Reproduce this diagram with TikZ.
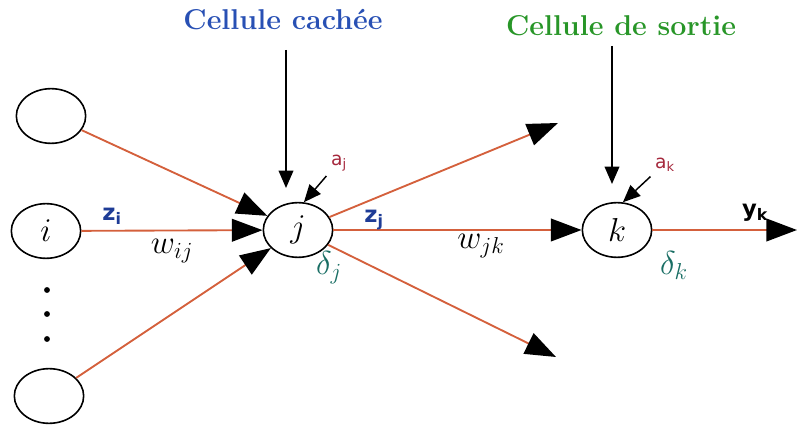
\documentclass[tikz,border=0pt]{standalone}
\usepackage{fontspec}
\usepackage{amsmath}
\usepackage{tikz}
\usetikzlibrary{shapes.geometric,arrows.meta}
\newfontfamily\labelfont{DejaVu Sans}
\definecolor{edgeorange}{RGB}{212,96,60}
\definecolor{hidblue}{RGB}{40,80,180}
\definecolor{outgreen}{RGB}{40,150,40}
\definecolor{zblue}{RGB}{30,60,150}
\definecolor{deltateal}{RGB}{25,110,100}
\definecolor{actred}{RGB}{165,40,60}

\begin{document}
\begin{tikzpicture}[x=0.75pt, y=-0.75pt,
	cell/.style={draw, ellipse, line width=1.2pt, minimum width=52pt, minimum height=41pt, inner sep=0pt, font=\fontsize{24}{26}\selectfont},
	link/.style={edgeorange, line width=1.4pt, -{Triangle[length=23pt,width=17pt,color=black]}},
	pointer/.style={black, line width=1.1pt, -{Triangle[length=13pt,width=11pt]}},
	title/.style={font=\fontsize{21.5}{24}\selectfont\bfseries},
	zlabel/.style={zblue, font=\labelfont\bfseries\fontsize{17}{19}\selectfont},
	alabel/.style={actred, font=\labelfont\fontsize{14}{16}\selectfont}]
	\useasboundingbox (0,0) rectangle (797,427);
	% cells
	\node[cell] (top) at (51,116) {};
	\node[cell] (i) at (46,231) {$i$};
	\node[cell] (bot) at (49,396) {};
	\node[cell] (j) at (298,230) {$j$};
	\node[cell] (k) at (617,230) {$k$};
	\foreach \y in {290,314,339} \fill (47,\y) circle (2.2pt);
	% titles
	\node[title, text=hidblue] (hid) at (283,20) {Cellule cachée};
	\node[title, text=outgreen] (out) at (621,26) {Cellule de sortie};
	\coordinate (hidtop) at (286,50);
	\coordinate (hidtip) at (286,188);
	\coordinate (outtop) at (612,46);
	\coordinate (outtip) at (612,184);
	\draw[pointer] (hidtop) -- (hidtip);
	\draw[pointer] (outtop) -- (outtip);
	% connections
	\draw[link] (top) -- (j);
	\draw[link] (i) -- (j);
	\draw[link] (bot) -- (j);
	\coordinate (upend) at (558,123);
	\coordinate (downend) at (556,357);
	\coordinate (yend) at (797,230);
	\draw[link] (j) -- (upend);
	\draw[link] (j) -- (downend);
	\draw[link] (j) -- (k);
	\draw[link] (k) -- (yend);
	% activations
	\node[alabel] (aj) at (339,163) {a$_{\text{j}}$};
	\node[alabel] (ak) at (665,165) {a$_{\text{k}}$};
	\draw[pointer] (aj.south west) -- (j.78);
	\draw[pointer] (ak.south west) -- (k.78);
	% labels
	\node[zlabel] (zi) at (112,216) {z$_{\textbf{i}}$};
	\node[zlabel] (zj) at (374,220) {z$_{\textbf{j}}$};
	\node[zlabel, text=black] (yk) at (755,213) {y$_{\textbf{k}}$};
	\node[font=\fontsize{24}{26}\selectfont] (wij) at (172,251) {$w_{ij}$};
	\node[font=\fontsize{24}{26}\selectfont] (wjk) at (481,246) {$w_{jk}$};
	\node[deltateal, font=\fontsize{24}{26}\selectfont] (dj) at (329,268) {$\delta_j$};
	\node[deltateal, font=\fontsize{24}{26}\selectfont] (dk) at (674,265) {$\delta_k$};
\end{tikzpicture}
\end{document}
